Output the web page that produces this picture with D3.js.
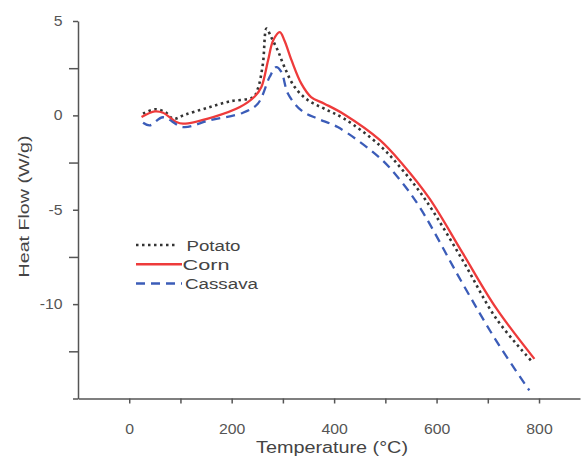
<!DOCTYPE html>
<meta charset="utf-8">
<script src="https://d3js.org/d3.v7.min.js"></script>
<style type="text/css">
body { margin: 0; background: #fff; }
.axis path, .axis line { stroke: #555; stroke-width: 1.5; }
.axis text { font-family: "Liberation Sans", Arial, sans-serif; font-size: 14px; fill: #555; }
.label { font-family: "Liberation Sans", Arial, sans-serif; font-size: 16px; fill: #444; }
</style>
<body>
</body>
<script>

// data: temperature (°C) and heat flow (W/g)
var potatoT = [27, 50, 70, 86, 109, 151, 196, 242, 251, 261, 268, 277, 290, 303, 323, 349, 381, 420, 489, 534, 579, 651, 716, 784];
var potatoQ = [0.09, 0.32, 0.18, -0.18, 0.04, 0.39, 0.74, 0.97, 1.41, 2.74, 4.6, 4.15, 3.44, 2.56, 1.5, 0.8, 0.35, -0.18, -1.59, -2.91, -4.5, -7.68, -10.75, -12.98];

var cornT = [24, 50, 66, 92, 105, 164, 216, 245, 258, 271, 281, 294, 303, 317, 336, 355, 381, 420, 489, 534, 586, 651, 716, 791];
var cornQ = [-0.09, 0.21, 0.14, -0.35, -0.44, -0.09, 0.44, 1.0, 1.5, 2.91, 3.97, 4.41, 3.97, 2.91, 1.68, 0.97, 0.62, 0.05, -1.3, -2.6, -4.4, -7.3, -10.2, -12.9];

var cassavaT = [27, 40, 66, 105, 157, 222, 251, 274, 287, 297, 310, 336, 368, 407, 489, 528, 567, 651, 716, 781];
var cassavaQ = [-0.39, -0.53, -0.1, -0.62, -0.26, 0.14, 0.62, 2.03, 2.56, 2.3, 1.15, 0.26, -0.18, -0.62, -2.25, -3.4, -4.86, -8.92, -11.92, -14.57];

var seriesNames = ["Potato", "Corn", "Cassava"];
var xTicks = [0, 100, 200, 300, 400, 500, 600, 700, 800];
var yTicks = [-15, -12.5, -10, -7.5, -5, -2.5, 0, 2.5, 5];

var margin = {top: 21, right: 2, bottom: 62.5, left: 78};
var width = 582 - margin.left - margin.right;
var height = 461 - margin.top - margin.bottom;

var svg = d3.select("body").append("svg")
  .attr("width", 582)
  .attr("height", 461)
  .append("g")
  .attr("transform", "translate(" + margin.left + "," + margin.top + ")");

var xScale = d3.scaleLinear().domain([-100, 880]).range([0, width]);
var yScale = d3.scaleLinear().domain([-15, 5]).range([height, 0]);

var xAxis = d3.axisBottom(xScale)
  .tickValues(xTicks)
  .tickSize(5)
  .tickSizeOuter(0)
  .tickFormat(function(d) { return d % 200 == 0 ? d : ""; });

var yAxis = d3.axisLeft(yScale)
  .tickValues(yTicks)
  .tickSize(5)
  .tickSizeOuter(0)
  .tickFormat(function(d) { return (d % 5 == 0 && d > -15) ? d : ""; });

// the source font is a little wider than Liberation Sans
var stretch = 1.13;

svg.append("g")
  .attr("class", "x axis")
  .attr("transform", "translate(0," + height + ")")
  .call(xAxis)
  .selectAll("text")
  .attr("y", 36).attr("dy", 0)
  .attr("transform", "scale(" + stretch + ",1)");

var yAxisGroup = svg.append("g")
  .attr("class", "y axis")
  .call(yAxis);

yAxisGroup.selectAll("text")
  .attr("x", -15.5 / stretch)
  .attr("transform", "scale(" + stretch + ",1)");

// minor ticks are drawn longer than the labelled ones
yAxisGroup.selectAll(".tick line")
  .attr("x2", function(d) { return d % 5 == 0 ? -5 : -9; });

// axis titles
svg.append("text")
  .attr("class", "label")
  .attr("x", 254)
  .attr("y", height + 54)
  .attr("text-anchor", "middle")
  .attr("textLength", 152)
  .attr("lengthAdjust", "spacingAndGlyphs")
  .text("Temperature (°C)");

svg.append("text")
  .attr("class", "label")
  .style("font-size", "15px")
  .attr("transform", "translate(-49.5,185.5) rotate(-90)")
  .attr("text-anchor", "middle")
  .attr("textLength", 142)
  .attr("lengthAdjust", "spacingAndGlyphs")
  .text("Heat Flow (W/g)");

var series = [
  {name: seriesNames[0], t: potatoT, q: potatoQ, color: "#333", dash: "2.5,3.5", width: 2.6, tl: 54},
  {name: seriesNames[1], t: cornT, q: cornQ, color: "#ee3b3b", dash: null, width: 2.3, tl: 47},
  {name: seriesNames[2], t: cassavaT, q: cassavaQ, color: "#3b5cb8", dash: "9,6", width: 2.3, tl: 73}
];

var line = d3.line()
  .x(function(d) { return xScale(d[0]); })
  .y(function(d) { return yScale(d[1]); })
  .curve(d3.curveCatmullRom.alpha(0.5));

svg.selectAll(".series")
  .data(series)
  .enter().append("path")
  .attr("class", "series")
  .attr("fill", "none")
  .attr("stroke", function(d) { return d.color; })
  .attr("stroke-width", function(d) { return d.width; })
  .attr("stroke-dasharray", function(d) { return d.dash; })
  .attr("d", function(d) { return line(d.t.map(function(t, i) { return [t, d.q[i]]; })); });

// legend
var legend = svg.selectAll(".legend")
  .data(series)
  .enter().append("g")
  .attr("class", "legend")
  .attr("transform", function(d, i) { return "translate(58," + (224 + i * 19.25) + ")"; });

legend.append("line")
  .attr("x1", 0).attr("x2", function(d, i) { return i == 0 ? 41 : 46; })
  .attr("stroke", function(d) { return d.color; })
  .attr("stroke-width", function(d) { return d.width; })
  .attr("stroke-dasharray", function(d) { return d.dash; });

legend.append("text")
  .attr("class", "label")
  .style("font-size", "15.5px")
  .attr("x", function(d, i) { return i == 0 ? 50.5 : (i == 1 ? 46.5 : 49); })
  .attr("y", 5.5)
  .attr("textLength", function(d) { return d.tl; })
  .attr("lengthAdjust", "spacingAndGlyphs")
  .text(function(d) { return d.name; });

</script>
